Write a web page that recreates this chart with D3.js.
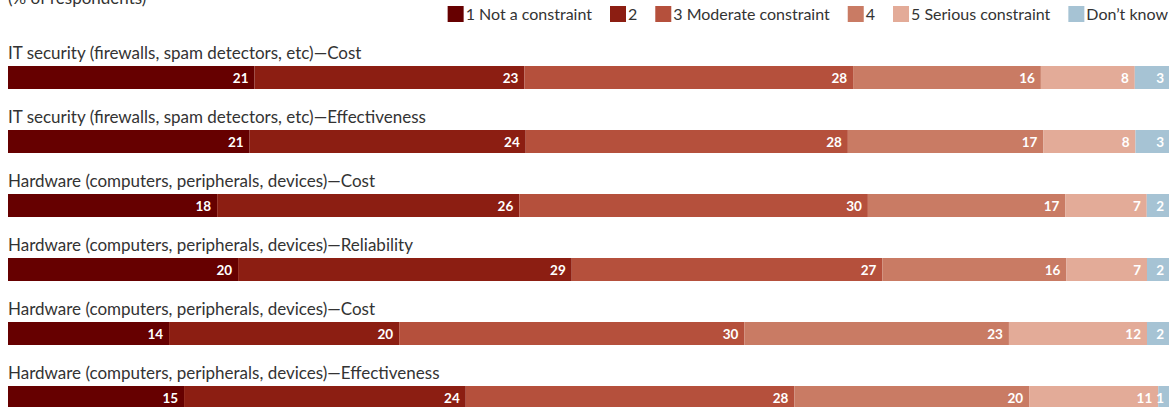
<!DOCTYPE html>
<html>
<head>
<meta charset="utf-8">
<script src="https://cdn.jsdelivr.net/npm/d3@7"></script>
<style>
  body { margin: 0; background: #fff; }
  svg { display: block; font-family: "Lato", "Open Sans", sans-serif; }
  .cat { fill: #333; font-size: 17px; }
  .val { fill: #fff; font-size: 13.5px; font-weight: bold; }
  .leg { fill: #333; font-size: 16px; }
</style>
</head>
<body>
<div id="graph"></div>
<script>
var width = 1169, height = 407;

var categories = [
  "IT security (firewalls, spam detectors, etc)\u2014Cost",
  "IT security (firewalls, spam detectors, etc)\u2014Effectiveness",
  "Hardware (computers, peripherals, devices)\u2014Cost",
  "Hardware (computers, peripherals, devices)\u2014Reliability",
  "Hardware (computers, peripherals, devices)\u2014Cost",
  "Hardware (computers, peripherals, devices)\u2014Effectiveness"
];
var seriesNames = ["1 Not a constraint", "2", "3 Moderate constraint", "4", "5 Serious constraint", "Don\u2019t know"];
var colors = ["#660000", "#8c1e12", "#b5503c", "#c97b64", "#e3ab98", "#a6c3d4"];

var s1 = [21, 21, 18, 20, 14, 15];
var s2 = [23, 24, 26, 29, 20, 24];
var s3 = [28, 28, 30, 27, 30, 28];
var s4 = [16, 17, 17, 16, 23, 20];
var s5 = [8, 8, 7, 7, 12, 11];
var s6 = [3, 3, 2, 2, 2, 1];
var series = [s1, s2, s3, s4, s5, s6];

var svg = d3.select("div#graph")
    .append("svg")
    .attr("width", width)
    .attr("height", height);

var x = d3.scaleLinear().domain([0, 100]).range([8, 1170]);
// band step is 64, bar height 23
var y = d3.scaleBand().domain(d3.range(categories.length)).range([66, 66 + 64 * 6 - 41]).paddingInner(41 / 64);

// title (cut off at the top, as in the original)
svg.append("text")
    .attr("class", "cat")
    .attr("x", 8).attr("y", 4)
    .text("(% of respondents)");

// rows, each normalised to its own total
var rows = categories.map(function(c, i) {
    var total = d3.sum(series, function(s) { return s[i]; });
    var acc = 0;
    var segs = series.map(function(s, k) {
        var seg = {k: k, v: s[i], x0: acc / total * 100, x1: (acc + s[i]) / total * 100};
        acc += s[i];
        return seg;
    });
    return {name: c, i: i, segs: segs};
});

var row = svg.selectAll("g.row")
    .data(rows)
    .enter()
    .append("g")
    .attr("class", "row")
    .attr("transform", function(d) { return "translate(0," + y(d.i) + ")"; });

row.append("text")
    .attr("class", "cat")
    .attr("x", 8).attr("y", -7.5)
    .text(function(d) { return d.name; });

row.selectAll("rect")
    .data(function(d) { return d.segs; })
    .enter()
    .append("rect")
    .attr("x", function(d) { return x(d.x0); })
    .attr("width", function(d) { return x(d.x1) - x(d.x0); })
    .attr("height", y.bandwidth())
    .attr("fill", function(d) { return colors[d.k]; });

row.selectAll("text.val")
    .data(function(d) { return d.segs; })
    .enter()
    .append("text")
    .attr("class", "val")
    .attr("text-anchor", "end")
    .attr("x", function(d) { return x(d.x1) - 6; })
    .attr("y", y.bandwidth() / 2 + 5)
    .text(function(d) { return d.v; });

// legend, right aligned
var legend = svg.append("g").attr("class", "legend");
var items = legend.selectAll("g")
    .data(seriesNames)
    .enter()
    .append("g");
items.append("rect")
    .attr("y", 6).attr("width", 16).attr("height", 16)
    .attr("fill", function(d, i) { return colors[i]; });
items.append("text")
    .attr("class", "leg")
    .attr("x", 18).attr("y", 19.5)
    .text(function(d) { return d; });

var pos = [];
var cur = 0;
items.each(function(d, i) {
    var w = 18 + this.querySelector("text").getComputedTextLength();
    pos.push(cur);
    cur += w + 18;
});
var start = 1168 - (cur - 18);
items.attr("transform", function(d, i) { return "translate(" + (start + pos[i]) + ",0)"; });
</script>
</body>
</html>
